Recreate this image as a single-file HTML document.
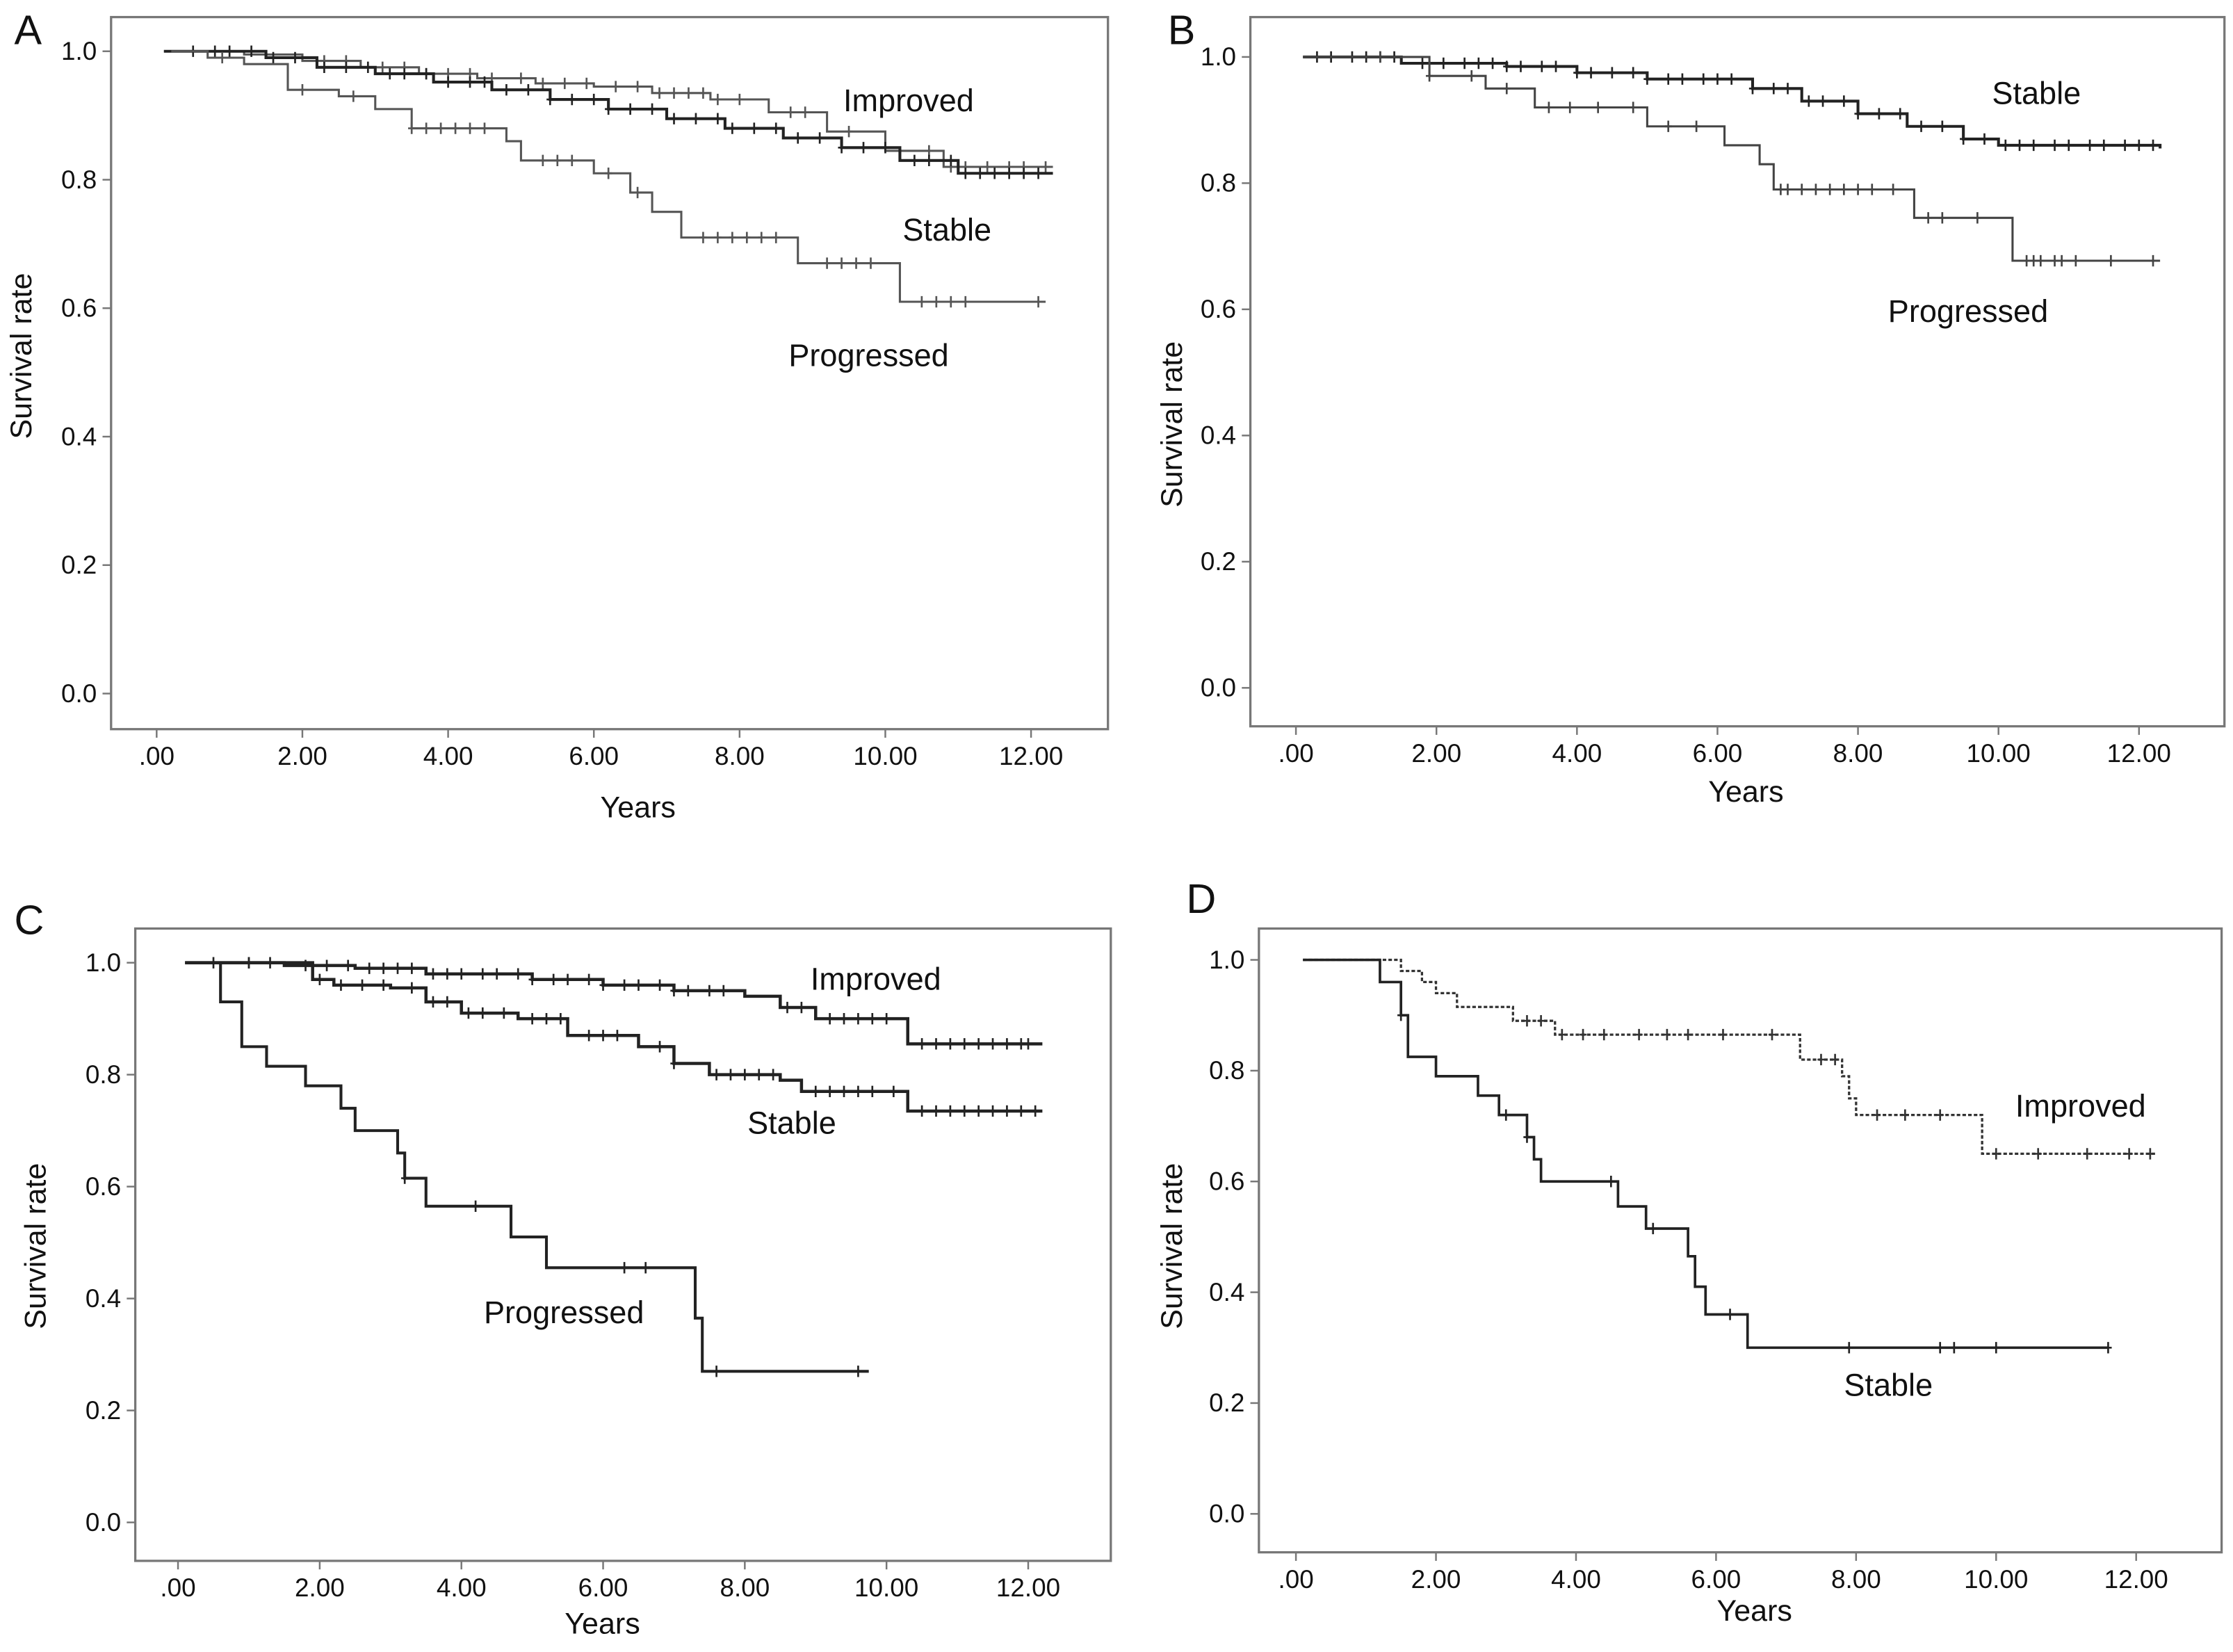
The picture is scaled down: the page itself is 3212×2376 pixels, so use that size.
<!DOCTYPE html>
<html><head><meta charset="utf-8"><style>
html,body{margin:0;padding:0;background:#fff;}
svg{display:block;}
text{font-family:"Liberation Sans",sans-serif;fill:#111;}
</style></head><body>
<svg id="fig" width="3212" height="2376" viewBox="0 0 1568 1160" preserveAspectRatio="none" xmlns="http://www.w3.org/2000/svg"></svg>
<script>
// ---- Data ----
const xTicks=[0,2,4,6,8,10,12];
const xTickLabels=[".00","2.00","4.00","6.00","8.00","10.00","12.00"];
const yTicks=[0,0.2,0.4,0.6,0.8,1.0];
const yTickLabels=["0.0","0.2","0.4","0.6","0.8","1.0"];

const aImpT=[0.1,1.2,2.0,2.8,3.6,4.4,5.2,6.0,6.8,7.6,8.4,9.2,10.0,10.8,12.3];
const aImpS=[1.0,0.995,0.985,0.975,0.965,0.958,0.95,0.945,0.935,0.925,0.905,0.875,0.845,0.82,0.82];
const aImpC=[2.3,2.6,3.1,3.4,3.7,4.0,4.3,4.6,5.0,5.3,5.6,5.9,6.3,6.6,6.9,7.1,7.3,7.5,7.7,8.0,8.7,8.9,9.5,10.6,10.9,11.1,11.4,11.7,11.9,12.2];
const aStaT=[0.1,1.5,2.2,3.0,3.8,4.6,5.4,6.2,7.0,7.8,8.6,9.4,10.2,11.0,12.3];
const aStaS=[1.0,0.99,0.975,0.965,0.952,0.94,0.925,0.91,0.895,0.88,0.865,0.85,0.83,0.81,0.81];
const aStaC=[0.5,0.8,1.0,1.3,1.6,1.9,2.3,2.6,2.9,3.2,3.4,3.7,4.0,4.3,4.5,4.8,5.1,5.4,5.7,6.0,6.2,6.5,6.8,7.1,7.4,7.7,7.9,8.2,8.5,8.8,9.1,9.4,9.7,10.0,10.4,10.6,10.9,11.1,11.3,11.5,11.7,11.9,12.1];
const aProT=[0.2,0.7,1.2,1.8,2.5,3.0,3.5,4.8,5.0,6.0,6.5,6.8,7.2,8.8,10.2,12.2];
const aProS=[1.0,0.99,0.98,0.94,0.93,0.91,0.88,0.86,0.83,0.81,0.78,0.75,0.71,0.67,0.61,0.61];
const aProC=[0.9,2.0,2.7,3.5,3.7,3.9,4.1,4.3,4.5,5.3,5.5,5.7,6.2,6.6,7.5,7.7,7.9,8.1,8.3,8.5,9.2,9.4,9.6,9.8,10.5,10.7,10.9,11.1,12.1];

const bStaT=[0.1,1.5,3.0,4.0,5.0,6.5,7.2,8.0,8.7,9.5,10.0,12.3];
const bStaS=[1.0,0.99,0.985,0.975,0.965,0.95,0.93,0.91,0.89,0.87,0.86,0.855];
const bStaC=[0.3,0.5,0.8,1.0,1.2,1.4,1.8,2.1,2.4,2.6,2.8,3.0,3.2,3.5,3.7,4.0,4.2,4.5,4.8,5.0,5.3,5.5,5.8,6.0,6.2,6.5,6.8,7.0,7.3,7.5,7.8,8.0,8.3,8.6,8.9,9.2,9.5,9.8,10.1,10.3,10.5,10.8,11.0,11.3,11.5,11.8,12.0,12.2];
const bProT=[0.1,1.9,2.7,3.4,5.0,6.1,6.6,6.8,8.8,10.2,12.3];
const bProS=[1.0,0.97,0.95,0.92,0.89,0.86,0.83,0.79,0.745,0.677,0.677];
const bProC=[1.2,1.9,2.5,3.0,3.6,3.9,4.3,4.8,5.3,5.7,6.9,7.0,7.2,7.4,7.6,7.8,8.0,8.2,8.5,9.0,9.2,9.7,10.4,10.5,10.6,10.8,10.9,11.1,11.6,12.2];

const cImpT=[0.1,1.5,2.5,3.5,5.0,6.0,7.0,8.0,8.5,9.0,10.3,12.2];
const cImpS=[1.0,0.995,0.99,0.98,0.97,0.96,0.95,0.94,0.92,0.9,0.855,0.855];
const cImpC=[0.5,1.0,1.3,1.8,2.1,2.4,2.7,2.9,3.1,3.3,3.6,3.8,4.0,4.3,4.5,4.8,5.0,5.3,5.5,5.8,6.0,6.3,6.5,6.8,7.0,7.2,7.5,7.7,8.6,8.8,9.2,9.4,9.6,9.8,10.0,10.5,10.7,10.9,11.1,11.3,11.5,11.7,11.9,12.0];
const cStaT=[0.1,1.9,2.2,3.0,3.5,4.0,4.8,5.5,6.5,7.0,7.5,8.5,8.8,10.3,12.2];
const cStaS=[1.0,0.97,0.96,0.955,0.93,0.91,0.9,0.87,0.85,0.82,0.8,0.79,0.77,0.735,0.735];
const cStaC=[1.0,2.0,2.3,2.6,2.9,3.3,3.6,3.8,4.1,4.3,4.6,5.0,5.2,5.4,5.8,6.0,6.2,6.8,7.0,7.6,7.8,8.0,8.2,8.4,9.0,9.2,9.4,9.6,9.8,10.1,10.5,10.7,10.9,11.1,11.3,11.5,11.7,11.9,12.1];
const cProT=[0.1,0.6,0.9,1.25,1.8,2.3,2.5,3.1,3.2,3.5,4.7,5.2,7.3,7.4,9.75];
const cProS=[1.0,0.93,0.85,0.815,0.78,0.74,0.70,0.66,0.615,0.565,0.51,0.455,0.365,0.27,0.27];
const cProC=[3.2,4.2,6.3,6.6,7.6,9.6];

const dImpT=[0.1,1.5,1.8,2.0,2.3,3.1,3.7,7.2,7.8,7.9,8.0,9.8,12.3];
const dImpS=[1.0,0.98,0.96,0.94,0.915,0.89,0.865,0.82,0.79,0.75,0.72,0.65,0.65];
const dImpC=[3.3,3.5,3.8,4.1,4.4,4.9,5.3,5.6,6.1,6.8,7.5,7.7,8.3,8.7,9.2,10.0,10.6,11.3,11.9,12.2];
const dStaT=[0.1,1.2,1.5,1.6,2.0,2.6,2.9,3.3,3.4,3.5,4.6,5.0,5.6,5.7,5.85,6.45,11.6];
const dStaS=[1.0,0.96,0.90,0.825,0.79,0.755,0.72,0.68,0.64,0.60,0.555,0.515,0.465,0.41,0.36,0.30,0.30];
const dStaC=[1.5,3.0,3.3,4.5,5.1,6.2,7.9,9.2,9.4,10.0,11.6];

// ---- Drawing ----
const NS="http://www.w3.org/2000/svg";
const svg=document.getElementById('fig');
function el(tag,attrs,parent){const e=document.createElementNS(NS,tag);for(const k in attrs)e.setAttribute(k,attrs[k]);(parent||svg).appendChild(e);return e;}

function panel(p){
  const g=el('g',{});
  
  
  const sx=v=>p.x0+(v/12)*(p.x12-p.x0);
  const sy=v=>p.y0-v*(p.y0-p.y1);
  const fr=el('rect',{x:p.fl,y:p.ft,width:p.fr-p.fl,height:p.fb-p.ft,fill:'none',stroke:'#777','stroke-width':1.6},g);
  
  
  const lt=el('text',{x:p.lx,y:p.ly,'font-size':29},g);lt.textContent=p.id;
  
  
  xTicks.forEach((v,i)=>{
    el('line',{x1:sx(v),x2:sx(v),y1:p.fb,y2:p.fb+6,stroke:'#777','stroke-width':1.2},g);
    const t=el('text',{x:sx(v),y:p.fb+25,'font-size':18,'text-anchor':'middle'},g);t.textContent=xTickLabels[i];
    
    
  });
  yTicks.forEach((v,i)=>{
    el('line',{x1:p.fl-6,x2:p.fl,y1:sy(v),y2:sy(v),stroke:'#777','stroke-width':1.2},g);
    const t=el('text',{x:p.fl-10,y:sy(v)+6,'font-size':18,'text-anchor':'end'},g);t.textContent=yTickLabels[i];
    
    
  });
  const xt=el('text',{x:p.xtx,y:p.xty,'font-size':21,'text-anchor':'middle'},g);xt.textContent='Years';
  
  
  const yt=el('text',{x:0,y:0,'font-size':21,'text-anchor':'middle',transform:`translate(${p.ytx},${p.yty}) rotate(-90)`},g);yt.textContent='Survival rate';
  
  
  p.series.forEach(s=>{
    let d=`M${sx(s.t[0])},${sy(s.s[0])}`;
    for(let i=1;i<s.t.length;i++){d+=` H${sx(s.t[i])} V${sy(s.s[i])}`;}
    const path=el('path',{d:d,fill:'none',stroke:s.color,'stroke-width':s.w,'stroke-dasharray':s.dash||'none'},g);
    
    
    s.c.forEach(ct=>{
      let v=s.s[0];
      for(let i=0;i<s.t.length;i++){if(s.t[i]<=ct)v=s.s[i];}
      const m=el('path',{d:`M${sx(ct)},${sy(v)-4} V${sy(v)+4} M${sx(ct)-2.5},${sy(v)} H${sx(ct)+2.5}`,stroke:s.color,'stroke-width':1.3,fill:'none'},g);
      
      
    });
  });
  p.labels.forEach(l=>{
    const t=el('text',{x:l[1],y:l[2],'font-size':22,'text-anchor':'middle'},g);t.textContent=l[0];
    
    
  });
}

panel({id:'A',fl:78,ft:12,fr:778,fb:512,x0:110,x12:724,y0:487,y1:36,lx:10,ly:31,xtx:448,xty:574,ytx:22,yty:250,
  series:[{name:'improved',t:aImpT,s:aImpS,c:aImpC,color:'#555',w:1.5},
          {name:'stable',t:aStaT,s:aStaS,c:aStaC,color:'#222',w:2},
          {name:'progressed',t:aProT,s:aProS,c:aProC,color:'#555',w:1.5}],
  labels:[['Improved',638,78],['Stable',665,169],['Progressed',610,257]]});
panel({id:'B',fl:878,ft:12,fr:1562,fb:510,x0:910,x12:1502,y0:483,y1:40,lx:820,ly:31,xtx:1226,xty:563,ytx:830,yty:298,
  series:[{name:'stable',t:bStaT,s:bStaS,c:bStaC,color:'#222',w:2},
          {name:'progressed',t:bProT,s:bProS,c:bProC,color:'#444',w:1.5}],
  labels:[['Stable',1430,73],['Progressed',1382,226]]});
panel({id:'C',fl:95,ft:652,fr:780,fb:1096,x0:125,x12:722,y0:1069,y1:676,lx:10,ly:656,xtx:423,xty:1147,ytx:32,yty:875,
  series:[{name:'improved',t:cImpT,s:cImpS,c:cImpC,color:'#222',w:2.2},
          {name:'stable',t:cStaT,s:cStaS,c:cStaC,color:'#222',w:2.2},
          {name:'progressed',t:cProT,s:cProS,c:cProC,color:'#222',w:2}],
  labels:[['Improved',615,695],['Stable',556,796],['Progressed',396,929]]});
panel({id:'D',fl:884,ft:652,fr:1560,fb:1090,x0:910,x12:1500,y0:1063,y1:674,lx:833,ly:641,xtx:1232,xty:1138,ytx:830,yty:875,
  series:[{name:'improved',t:dImpT,s:dImpS,c:dImpC,color:'#333',w:1.6,dash:'2.5,1.5'},
          {name:'stable',t:dStaT,s:dStaS,c:dStaC,color:'#222',w:1.8}],
  labels:[['Improved',1461,784],['Stable',1326,980]]});
</script>
</body></html>
